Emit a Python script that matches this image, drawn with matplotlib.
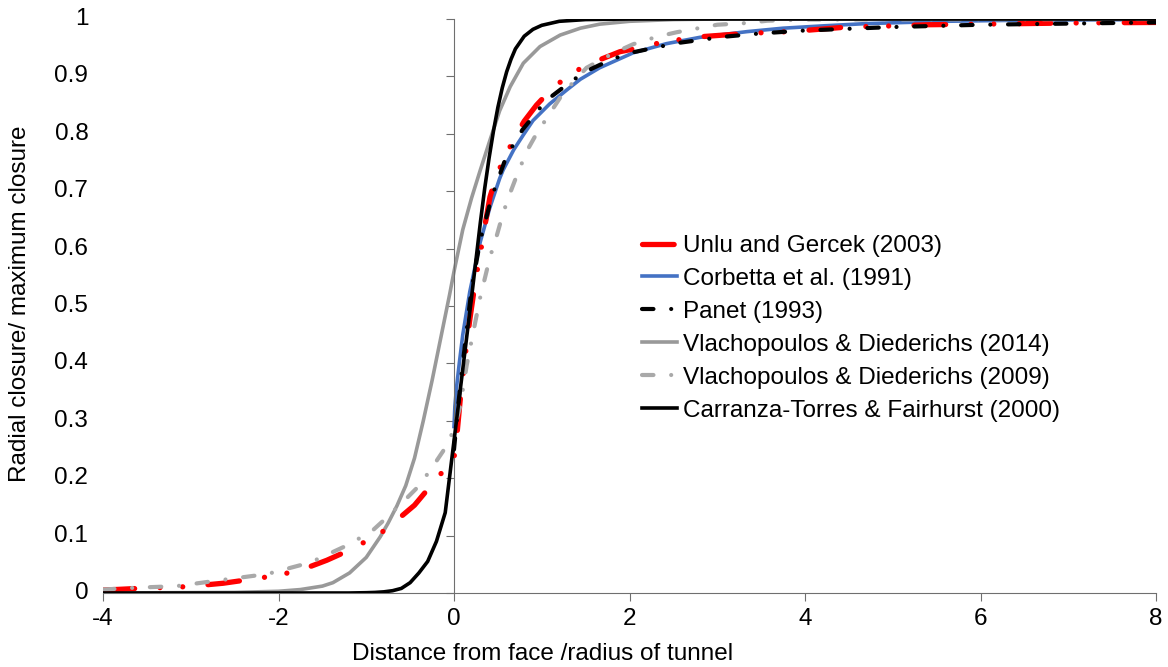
import matplotlib.pyplot as plt

plt.rcParams['font.family'] = ['Liberation Sans', 'DejaVu Sans']

# Unlu and Gercek (2003)
unlu_x = [-4, -3.6, -3.05, -2.63, -2.4, -2.13, -1.89, -1.64, -1.45, -1.26, -1.04, -0.82, -0.62, -0.45, -0.33,
          -0.17, 0.0, 0.03, 0.07, 0.125, 0.18, 0.25, 0.3, 0.35, 0.41, 0.49, 0.6, 0.695, 0.8, 0.94, 1.1, 1.29,
          1.51, 1.66, 1.89, 2.15, 2.38, 2.8, 3.34, 3.83, 4.48, 5.0, 5.4, 6.0, 7.0, 8.0]
unlu_y = [0.005, 0.008, 0.011, 0.017, 0.022, 0.028, 0.035, 0.046, 0.057, 0.07, 0.087, 0.106, 0.131, 0.153, 0.175,
          0.204, 0.235, 0.27, 0.335, 0.41, 0.476, 0.55, 0.592, 0.638, 0.69, 0.73, 0.765, 0.795, 0.822, 0.85, 0.876,
          0.9, 0.92, 0.929, 0.943, 0.951, 0.96, 0.969, 0.975, 0.978, 0.986, 0.988, 0.99, 0.991, 0.993, 0.994]

# Corbetta et al. (1991)
corb_x = [0, 0.01, 0.03, 0.06, 0.1, 0.18, 0.3, 0.41, 0.52, 0.56, 0.68, 0.79, 0.9, 1.09, 1.29, 1.44, 1.66, 2.04,
          2.42, 2.8, 3.34, 3.75, 4.2, 4.7, 5.6, 6.5, 8.0]
corb_y = [0.29, 0.325, 0.36, 0.40, 0.45, 0.525, 0.612, 0.672, 0.722, 0.737, 0.772, 0.798, 0.823, 0.852, 0.877,
          0.895, 0.915, 0.941, 0.957, 0.968, 0.978, 0.984, 0.988, 0.992, 0.996, 0.998, 0.999]

# Panet (1993)
panet_x = [0, 0.05, 0.1, 0.2, 0.3, 0.43, 0.6, 0.78, 0.87, 0.98, 1.11, 1.23, 1.37, 1.55, 1.8, 2.04, 2.54, 3.07,
           3.5, 4.0, 5.0, 6.0, 7.0, 8.0]
panet_y = [0.25, 0.33, 0.40, 0.53, 0.615, 0.69, 0.762, 0.807, 0.824, 0.845, 0.865, 0.879, 0.895, 0.912, 0.93,
           0.942, 0.958, 0.969, 0.975, 0.98, 0.986, 0.99, 0.992, 0.994]

# Vlachopoulos & Diederichs (2014)
v14_x = [-4, -2.5, -2.0, -1.75, -1.5, -1.38, -1.19, -1.0, -0.84, -0.75, -0.65, -0.55, -0.45, -0.35, -0.25,
         -0.15, -0.05, 0, 0.1, 0.2, 0.3, 0.41, 0.52, 0.64, 0.79, 0.98, 1.21, 1.44, 1.66, 2.0, 2.5, 3.0, 8.0]
v14_y = [0, 0.001, 0.003, 0.006, 0.012, 0.018, 0.035, 0.062, 0.098, 0.122, 0.152, 0.187, 0.235, 0.30, 0.37,
         0.445, 0.52, 0.56, 0.633, 0.688, 0.737, 0.789, 0.84, 0.882, 0.923, 0.952, 0.972, 0.984, 0.991, 0.996,
         0.999, 1.0, 1.0]

# Vlachopoulos & Diederichs (2009)
v09_x = [-4, -3.66, -3.16, -2.63, -2.13, -1.64, -1.19, -0.92, -0.77, -0.54, -0.41, -0.27, -0.125, 0, 0.07,
         0.145, 0.24, 0.3, 0.41, 0.49, 0.56, 0.64, 0.71, 0.83, 0.94, 1.09, 1.24, 1.51, 1.81, 2.04, 2.31, 2.54,
         3.0, 3.34, 3.57, 4.0, 8.0]
v09_y = [0.006, 0.009, 0.012, 0.023, 0.033, 0.053, 0.085, 0.11, 0.131, 0.165, 0.185, 0.214, 0.247, 0.284, 0.325,
         0.397, 0.47, 0.516, 0.585, 0.624, 0.662, 0.697, 0.725, 0.77, 0.80, 0.835, 0.87, 0.915, 0.94, 0.956,
         0.969, 0.977, 0.99, 0.993, 0.997, 0.999, 1.0]

# Carranza-Torres & Fairhurst (2000)
ct_x = [-4, -1.2, -1.0, -0.9, -0.8, -0.7, -0.6, -0.5, -0.4, -0.3, -0.2, -0.1, 0, 0.1, 0.2, 0.3, 0.35, 0.4,
        0.45, 0.5, 0.55, 0.6, 0.65, 0.7, 0.8, 0.9, 1.0, 1.2, 1.5, 2.0, 8.0]
ct_y = [0, 0.0, 0.0005, 0.001, 0.002, 0.004, 0.008, 0.018, 0.035, 0.055, 0.09, 0.14, 0.265, 0.39, 0.515, 0.645,
        0.705, 0.758, 0.805, 0.846, 0.88, 0.908, 0.93, 0.948, 0.97, 0.982, 0.989, 0.996, 0.999, 1.0, 1.0]

fig = plt.figure(figsize=(11.68, 6.67), dpi=100)
ax = fig.add_axes([103 / 1168, 74 / 667, 1053 / 1168, 574 / 667])

ax.plot(unlu_x, unlu_y, color='#FF0000', lw=3.8, dashes=(6.0, 4.8, 0.01, 4.3, 0.01, 4.8),
        dash_capstyle='round', label='Unlu and Gercek (2003)', zorder=3)
ax.plot(corb_x, corb_y, color='#4472C4', lw=2.6, label='Corbetta et al. (1991)', zorder=2)
ax.plot(panet_x, panet_y, color='black', lw=3.0, dashes=(2.75, 4.25, 0.01, 4.25),
        dash_capstyle='round', label='Panet (1993)', zorder=4)
ax.plot(v14_x, v14_y, color='#999999', lw=2.6, label='Vlachopoulos & Diederichs (2014)', zorder=2)
ax.plot(v09_x, v09_y, color='#A9A9A9', lw=3.0, dashes=(2.75, 4.25, 0.01, 4.25),
        dash_capstyle='round', label='Vlachopoulos & Diederichs (2009)', zorder=3)
ax.plot(ct_x, ct_y, color='black', lw=2.6, label='Carranza-Torres & Fairhurst (2000)', zorder=5)

ax.set_xlim(-4, 8)
ax.set_ylim(0, 1)

for s in ['top', 'right']:
    ax.spines[s].set_visible(False)
ax.spines['left'].set_position(('data', 0))
ax.spines['left'].set_color('#6f6f6f')
ax.spines['bottom'].set_color('#6f6f6f')

ax.set_xticks([-4, -2, 0, 2, 4, 6, 8])
ax.set_xticklabels(['-4', '-2', '0', '2', '4', '6', '8'])
ax.tick_params(axis='x', direction='out', length=6, color='#6f6f6f', labelsize=17.5, pad=5)

yt = [0, 0.1, 0.2, 0.3, 0.4, 0.5, 0.6, 0.7, 0.8, 0.9, 1]
ylab = ['0', '0.1', '0.2', '0.3', '0.4', '0.5', '0.6', '0.7', '0.8', '0.9', '1']
ax.set_yticks(yt)
ax.set_yticklabels([])
ax.tick_params(axis='y', direction='out', length=6, color='#6f6f6f')
for v, t in zip(yt, ylab):
    ax.text(-0.014, v, t, transform=ax.get_yaxis_transform(), ha='right', va='center', fontsize=17.5)

fig.text(543 / 1168, 1 - 654 / 667, 'Distance from face /radius of tunnel', ha='center', va='center', fontsize=17.5)
fig.text(20 / 1168, 1 - 304 / 667, 'Radial closure/ maximum closure', ha='center', va='center',
         rotation=90, fontsize=17.5)

ax.legend(loc='upper left', bbox_to_anchor=(642 / 1168, 1 - 235 / 667), bbox_transform=fig.transFigure,
          frameon=False, fontsize=17.5, handlelength=1.45, handletextpad=0.25, labelspacing=0.45,
          borderpad=0, borderaxespad=0)

fig.savefig('out.png', dpi=100)
